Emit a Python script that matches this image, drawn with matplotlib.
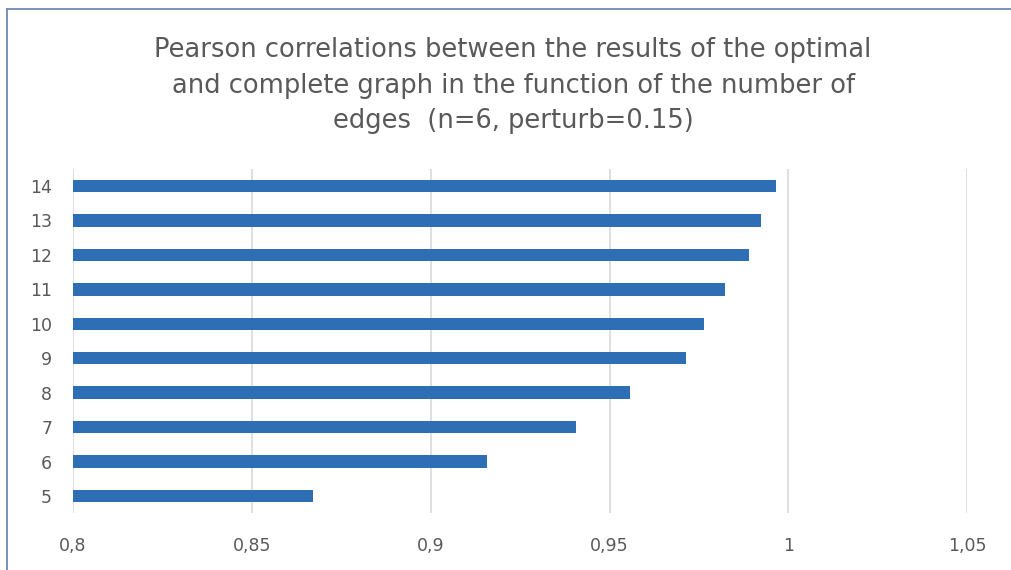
import matplotlib
matplotlib.use("Agg")
import matplotlib.pyplot as plt
from matplotlib.lines import Line2D
from matplotlib.ticker import FuncFormatter

edges = [5, 6, 7, 8, 9, 10, 11, 12, 13, 14]
correlations = [0.8671, 0.9156, 0.9405, 0.9557, 0.9713, 0.9764, 0.9823, 0.9889, 0.9924, 0.9966]
x_ticks = [0.8, 0.85, 0.9, 0.95, 1.0, 1.05]
title_lines = ["Pearson correlations between the results of the optimal",
               "and complete graph in the function of the number of",
               "edges  (n=6, perturb=0.15)"]

plt.rcParams['font.family'] = ['DejaVu Sans']
W, H = 1012, 570
fig = plt.figure(figsize=(W / 100, H / 100), dpi=100)
fig.patch.set_facecolor('white')

# outer border (top and left visible)
bx, by = 7.5 / W, 1 - 8.5 / H
fig.add_artist(Line2D([bx, 1.0], [by, by], transform=fig.transFigure,
                      color='#7089b3', linewidth=1.3))
fig.add_artist(Line2D([bx, bx], [0.0, by], transform=fig.transFigure,
                      color='#7089b3', linewidth=1.3))

ax = fig.add_axes([73 / W, 1 - 513.2 / H, (967.3 - 73) / W, (513.2 - 168.8) / H])
ax.barh(range(len(edges)), correlations, left=0, height=0.36, color='#2e6eb5')
ax.set_xlim(0.8, 1.05)
ax.set_ylim(-0.5, len(edges) - 0.5)
ax.set_yticks(range(len(edges)))
ax.set_yticklabels([str(e) for e in edges])
ax.set_xticks(x_ticks)
ax.xaxis.set_major_formatter(FuncFormatter(lambda v, p: f"{v:g}".replace('.', ',')))
ax.grid(axis='x', color='#d9d9d9', linewidth=1.2)
ax.set_axisbelow(True)
for s in ax.spines.values():
    s.set_visible(False)
ax.tick_params(axis='both', length=0, labelsize=12.5, labelcolor='#595959')
ax.tick_params(axis='y', pad=15)
ax.tick_params(axis='x', pad=17)

for line, base in zip(title_lines, [57, 93, 128]):
    fig.text(0.507, 1 - base / H, line, ha='center', va='baseline', fontsize=18.5,
             color='#595959')

fig.savefig('out.png', dpi=100)
